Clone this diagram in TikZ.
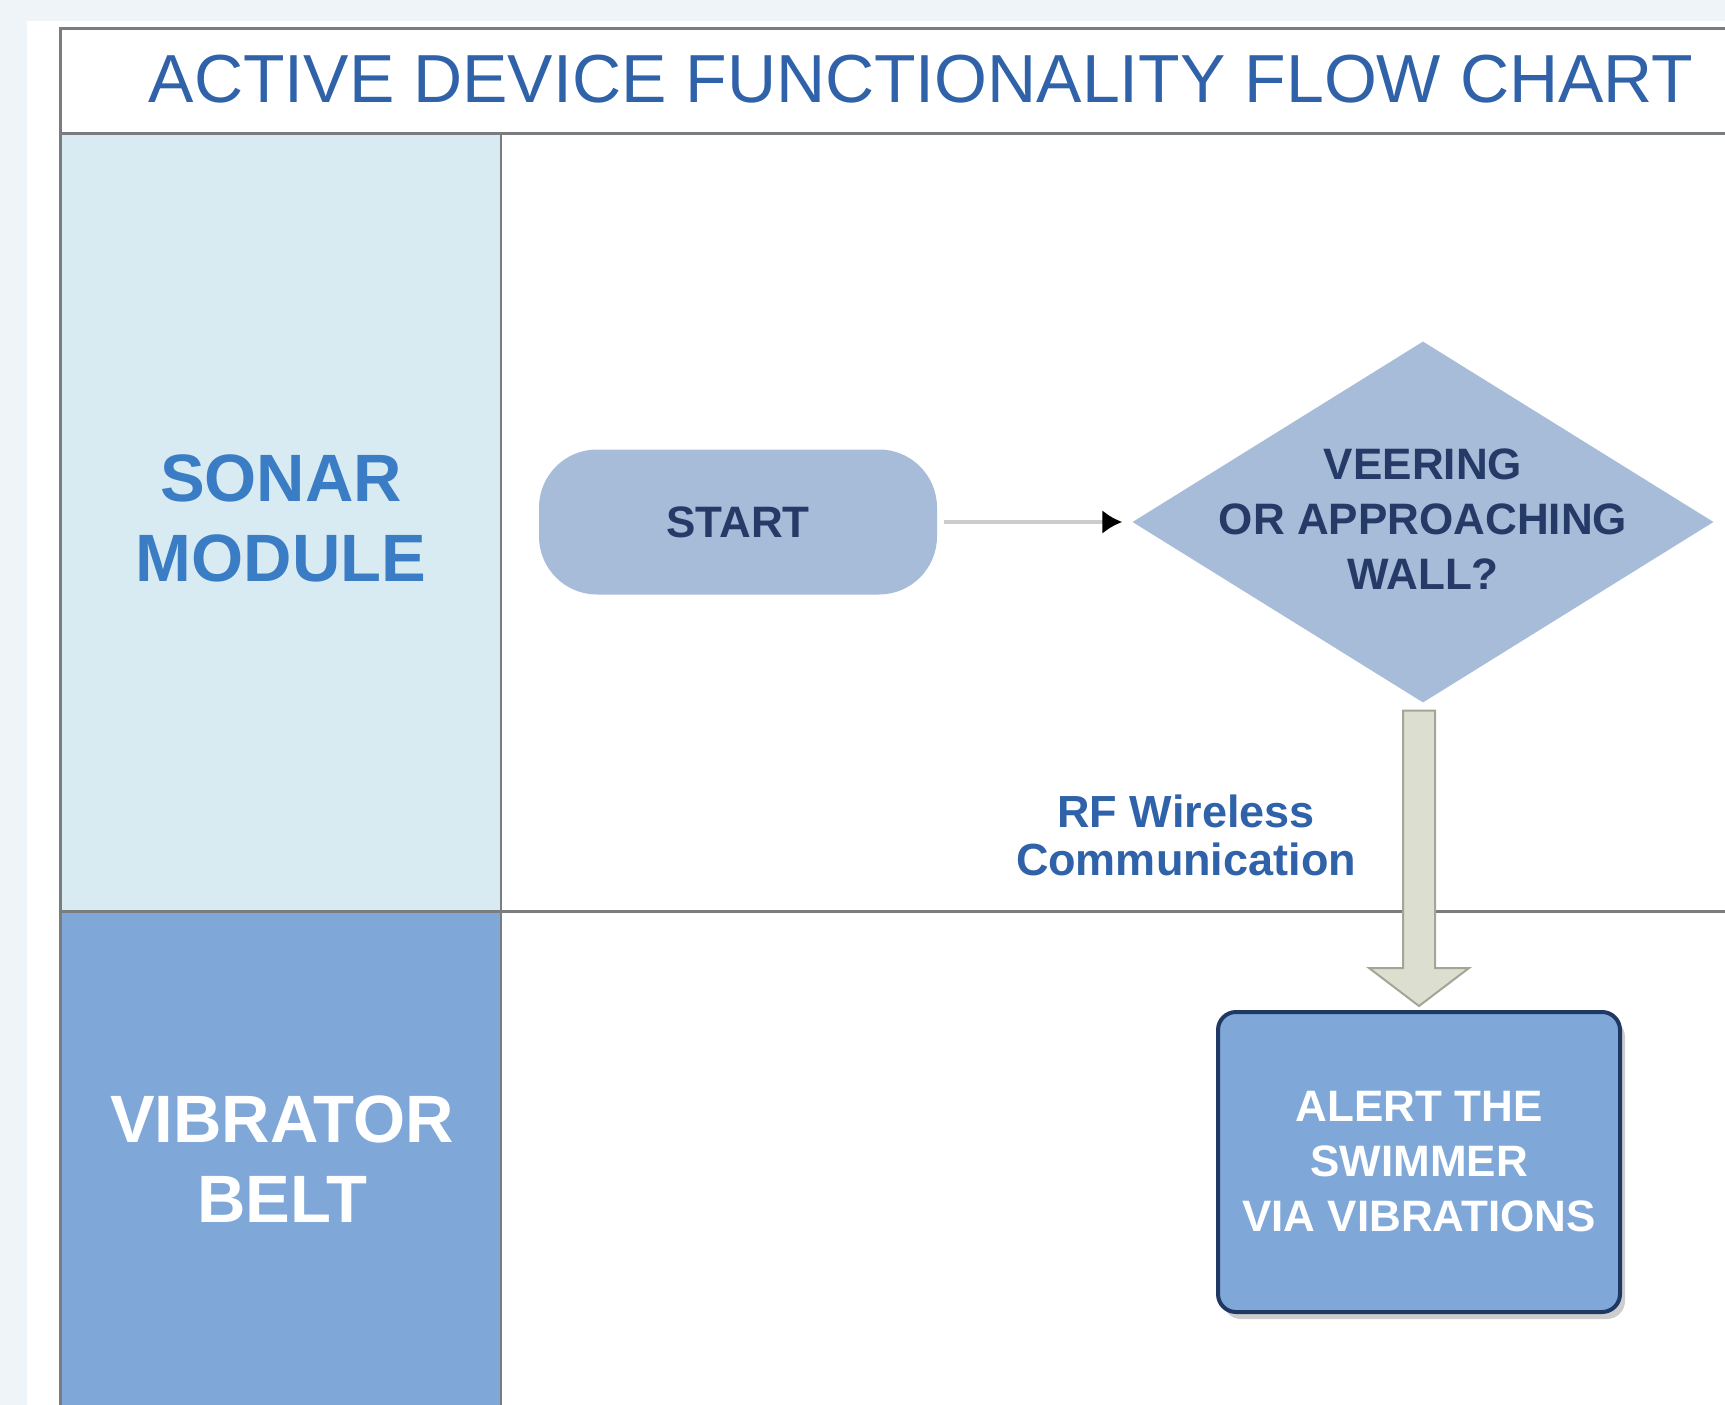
\documentclass[tikz,border=0pt]{standalone}
\usepackage{fontspec}
\setmainfont{Liberation Sans}
\usetikzlibrary{arrows.meta,shapes.geometric,shapes.misc,shadows,calc,positioning}
\usepackage{xcolor}
\definecolor{pagebg}{HTML}{EEF4F8}
\definecolor{framegray}{HTML}{7A7D80}
\definecolor{sonarfill}{HTML}{D9EBF2}
\definecolor{vibfill}{HTML}{7FA8D8}
\definecolor{shapefill}{HTML}{A7BCD8}
\definecolor{titleblue}{HTML}{2F62A8}
\definecolor{sonarblue}{HTML}{3B7DC4}
\definecolor{navytext}{HTML}{253A66}
\definecolor{alertline}{HTML}{1F3864}
\definecolor{blockfill}{HTML}{DCDFD0}
\definecolor{blockline}{HTML}{A3A595}
\newcommand{\bigfont}{\fontsize{67pt}{80pt}\selectfont\bfseries}
\newcommand{\boxfont}{\fontsize{44pt}{55pt}\selectfont\bfseries}
\tikzset{
    titlesty/.style={font=\fontsize{68pt}{78pt}\selectfont, text=titleblue, inner sep=0pt},
    framesty/.style={draw=framegray, line width=3pt},
    lanenamesty/.style={font=\bigfont, align=center, inner sep=0pt},
    startsty/.style={rectangle, rounded corners=58pt, fill=shapefill, minimum width=398pt, minimum height=145pt, font=\boxfont, text=navytext},
    decisty/.style={diamond, fill=shapefill, minimum width=581pt, minimum height=361pt, inner sep=0pt},
    dectextsty/.style={font=\boxfont, text=navytext, align=center, inner sep=0pt},
    alertsty/.style={rectangle, rounded corners=18pt, fill=vibfill, draw=alertline, line width=4pt, minimum width=402pt, minimum height=300pt, font=\boxfont, text=white, align=center, drop shadow={shadow xshift=5pt, shadow yshift=-7pt, fill=gray!55, opacity=0.7}},
    rfsty/.style={font=\fontsize{45pt}{48pt}\selectfont\bfseries, text=titleblue, align=center, inner sep=0pt},
    flowsty/.style={draw=gray!40, line width=4pt, -{Latex[black,length=20pt,width=24pt]}, shorten <=7pt, shorten >=10pt},
    blockarrsty/.style={fill=blockfill, draw=blockline, line width=2pt, line join=miter},
}

\begin{document}
\begin{tikzpicture}[x=1pt,y=-1pt,>=latex]
\useasboundingbox (0,0) rectangle (1725,1405);
\fill[pagebg] (0,0) rectangle (1725,1405);
\fill[white] (27,21) rectangle (1725,1405);

% lanes
\fill[sonarfill] (60,133) rectangle (501,911);
\fill[vibfill] (60,911) rectangle (501,1405);
\draw[framesty] (1725,29) -- (60,29) -- (60,1405);
\draw[framesty] (60,133) -- (1725,133);
\draw[framesty] (60,911) -- (1725,911);
\draw[framesty, line width=2pt] (501,133) -- (501,1405);

\node[titlesty] (title) at (921,79) {ACTIVE DEVICE FUNCTIONALITY FLOW CHART};
\node[lanenamesty, text=sonarblue] (sonar) at (281,518) {SONAR\\MODULE};
\node[lanenamesty, text=white] (vibrator) at (282,1159) {VIBRATOR\\BELT};

% flow
\node[startsty] (start) at (738,522) {START};
\node[decisty, label={[dectextsty, yshift=3pt]center:{VEERING\\OR APPROACHING\\WALL?}}] (wall) at (1423,522) {};
\node[alertsty] (alert) at (1419,1162) {ALERT THE\\SWIMMER\\VIA VIBRATIONS};
\node[rfsty] (rf) at (1186,835) {RF Wireless\\Communication};

\draw[flowsty] (start) -- (wall);
\draw[blockarrsty] ($(alert.north |- wall.south)+(-16,8)$) -- ($(alert.north)+(-16,-42)$)
  -- ($(alert.north)+(-50,-42)$) -- ($(alert.north)+(0,-4)$) -- ($(alert.north)+(50,-42)$)
  -- ($(alert.north)+(16,-42)$) -- ($(alert.north |- wall.south)+(16,8)$) -- cycle;
\end{tikzpicture}
\end{document}
